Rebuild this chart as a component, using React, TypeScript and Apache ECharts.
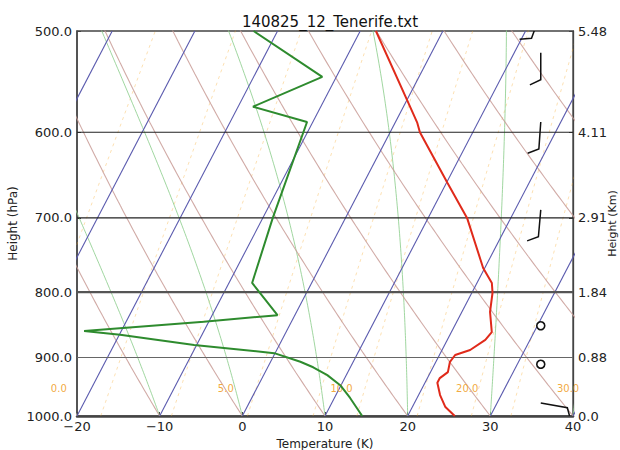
import React, { useEffect, useRef } from 'react';
import * as echarts from 'echarts';

// ---- sounding data ----
const tempP = [1000, 984, 963, 942, 934, 924, 907, 896, 888, 872, 860, 829, 801, 787, 766, 700, 657, 600, 590, 566, 500];
const tempC = [25.7, 24.0, 22.6, 21.5, 21.5, 22.1, 21.7, 21.9, 23.4, 24.6, 24.9, 23.4, 22.5, 21.8, 19.8, 14.7, 10.1, 3.6, 2.7, 0.0, -8.1];

const dewP = [1000, 968, 946, 929, 916, 907, 893, 880, 864, 858, 844, 834, 787, 700, 589, 573, 543, 500];
const dewC = [14.5, 11.9, 9.9, 7.7, 5.5, 3.6, -0.1, -10.3, -19.9, -24.5, -10.6, -2.1, -7.2, -8.8, -10.7, -18.2, -11.7, -22.9];

// wind barbs (pressure of the barb tip, screen angle of the staff, speed)
const windP = [484, 520, 589, 690, 850, 911, 977];
const windAngle = [200, 180, 184, 185, 0, 0, 100];
const windSpeed = [10, 10, 10, 10, 0, 0, 10];
const BARB_X = 36.1;

// axis ticks
const pressureTicks = [500, 600, 700, 800, 900, 1000];
const heightTicks = ['5.48', '4.11', '2.91', '1.84', '0.88', '0.0'];
const gridLevels = [600, 700, 800, 900];

// background line families
const isothermT = [-40, -30, -20, -10, 0, 10, 20, 30, 40];
const dryThetaC = [-20, -10, 0, 10, 20, 30, 40, 50, 60, 70];
const moistThetaC = [-20, -10, 0, 10, 20, 30, 40];
const mixRatios = [0.4, 1, 2, 4, 7, 10, 16, 24, 32];

// orange labels near the bottom
const bottomLabels = ['0.0', '5.0', '10.0', '20.0', '30.0'];
const bottomLabelX = [-22.2, -2.0, 12.0, 27.2, 39.4];
const BOTTOM_LABEL_P = 951;

const SKEW = 35;
const P0 = 1000;
const PTOP = 500;
const FONT = 'DejaVu Sans';

const skewX = (t: number, p: number) => t + SKEW * Math.log(P0 / p);
const yOf = (p: number) => Math.log(p);

const levels: number[] = [];
for (let p = 1000; p >= 480; p -= 5) levels.push(p);

function moistLapse(Tk: number, p: number) {
  const Rd = 287.04, Cp = 1005.7, Lv = 2.501e6, eps = 0.622;
  const Tc = Tk - 273.15;
  const es = 6.112 * Math.exp((17.67 * Tc) / (Tc + 243.5));
  const rs = (eps * es) / (p - es);
  const num = (Rd * Tk + Lv * rs) / p;
  const den = Cp + (Lv * Lv * rs * eps) / (Rd * Tk * Tk);
  return num / den;
}

function moistCurve(t0: number) {
  const out: number[][] = [];
  let T = t0 + 273.15;
  for (let i = 0; i < levels.length; i++) {
    const p = levels[i];
    out.push([skewX(T - 273.15, p), yOf(p)]);
    if (i < levels.length - 1) {
      const dp = levels[i + 1] - p;
      const k1 = moistLapse(T, p);
      const k2 = moistLapse(T + 0.5 * dp * k1, p + 0.5 * dp);
      const k3 = moistLapse(T + 0.5 * dp * k2, p + 0.5 * dp);
      const k4 = moistLapse(T + dp * k3, p + dp);
      T += (dp / 6) * (k1 + 2 * k2 + 2 * k3 + k4);
    }
  }
  return out;
}

function dryCurve(thC: number) {
  return levels.map((p) => {
    const T = (thC + 273.15) * Math.pow(p / 1000, 0.2857) - 273.15;
    return [skewX(T, p), yOf(p)];
  });
}

function mixCurve(w: number) {
  return levels.map((p) => {
    const e = (w * p) / (622 + w);
    const l = Math.log(e / 6.112);
    const td = (243.5 * l) / (17.67 - l);
    return [skewX(td, p), yOf(p)];
  });
}

function lineSeries(data: number[][], color: string, width: number, z: number, extra: any = {}) {
  return {
    type: 'line',
    data,
    symbol: 'none',
    showSymbol: false,
    silent: true,
    clip: true,
    z,
    lineStyle: { color, width, ...extra },
  };
}

function buildOption() {
  const series: any[] = [];
  mixRatios.forEach((w) => series.push(lineSeries(mixCurve(w), '#f5a623', 1, 1, { type: [3, 4], opacity: 0.35 })));
  moistThetaC.forEach((t) => series.push(lineSeries(moistCurve(t), '#8fcf8f', 1, 2, { opacity: 0.85 })));
  dryThetaC.forEach((t) => series.push(lineSeries(dryCurve(t), '#c99c96', 1.1, 2, { opacity: 0.85 })));
  isothermT.forEach((t) =>
    series.push(lineSeries([[skewX(t, P0), yOf(P0)], [skewX(t, PTOP), yOf(PTOP)]], '#5a5aae', 1.1, 3))
  );
  gridLevels.forEach((p) =>
    series.push(
      lineSeries([[-20, yOf(p)], [40, yOf(p)]], p === 800 ? '#555' : p === 900 ? '#666' : '#222', p === 800 ? 2.2 : 1.2, 4)
    )
  );
  series.push(lineSeries(dewP.map((p, i) => [skewX(dewC[i], p), yOf(p)]), '#2e8b2e', 2, 6));
  series.push(lineSeries(tempP.map((p, i) => [skewX(tempC[i], p), yOf(p)]), '#e02a1a', 2, 6));

  series.push({
    type: 'custom',
    coordinateSystem: 'cartesian2d',
    silent: true,
    clip: true,
    z: 7,
    data: windP.map((p, i) => [BARB_X, yOf(p), windAngle[i], windSpeed[i]]),
    renderItem: (params: any, api: any) => {
      const pt = api.coord([api.value(0), api.value(1)]);
      const speed = api.value(3);
      if (!speed) {
        return {
          type: 'circle',
          shape: { cx: pt[0], cy: pt[1], r: 4 },
          style: { fill: '#fff', stroke: '#111', lineWidth: 1.6 },
        };
      }
      const a = (api.value(2) * Math.PI) / 180;
      const dx = Math.sin(a), dy = -Math.cos(a);
      const L = 27;
      const end = [pt[0] + dx * L, pt[1] + dy * L];
      const phi = Math.atan2(dy, dx) + (65 * Math.PI) / 180;
      const b = [end[0] + Math.cos(phi) * 12, end[1] + Math.sin(phi) * 12];
      return {
        type: 'polyline',
        shape: { points: [pt, end, b] },
        style: { fill: 'none', stroke: '#111', lineWidth: 1.5 },
      };
    },
  });

  series.push({
    type: 'custom',
    coordinateSystem: 'cartesian2d',
    silent: true,
    clip: false,
    z: 5,
    data: bottomLabelX.map((x, i) => [x, yOf(BOTTOM_LABEL_P), i]),
    renderItem: (params: any, api: any) => {
      const pt = api.coord([api.value(0), api.value(1)]);
      return {
        type: 'text',
        x: pt[0],
        y: pt[1],
        style: {
          text: bottomLabels[api.value(2)],
          fill: 'rgba(240,160,40,0.9)',
          fontSize: 10,
          fontFamily: FONT,
          align: 'center',
          verticalAlign: 'middle',
        },
      };
    },
  });

  const yTicks = pressureTicks.map(yOf);
  const axisText = { color: '#222', fontSize: 13, fontFamily: FONT };

  return {
    animation: false,
    textStyle: { fontFamily: FONT },
    title: {
      text: '140825_12_Tenerife.txt',
      left: 325,
      top: 9,
      textAlign: 'center',
      textStyle: { fontSize: 15, fontWeight: 'normal', color: '#111', fontFamily: FONT },
    },
    grid: {
      left: 77,
      right: 47,
      top: 31,
      bottom: 34,
      show: true,
      borderColor: '#444',
      borderWidth: 1.3,
      backgroundColor: '#fff',
      containLabel: false,
      outerBoundsMode: 'none',
    },
    xAxis: {
      type: 'value',
      min: -20,
      max: 40,
      interval: 10,
      name: 'Temperature (K)',
      nameLocation: 'middle',
      nameGap: 15,
      nameTextStyle: { fontSize: 12, color: '#222', fontFamily: FONT },
      axisLine: { show: true, onZero: false, lineStyle: { color: '#444', width: 2.5 } },
      axisTick: { show: true, inside: true, length: 4, lineStyle: { color: '#444' } },
      axisLabel: { ...axisText, margin: 4, formatter: (v: number) => String(v).replace('-', '\u2212') },
      splitLine: { show: false },
    },
    yAxis: [
      {
        type: 'value',
        min: yOf(500),
        max: yOf(1000),
        inverse: true,
        name: 'Height (hPa)',
        nameLocation: 'middle',
        nameRotate: 90,
        nameGap: 58,
        nameMoveOverlap: false,
        nameTextStyle: { fontSize: 12, color: '#222', fontFamily: FONT },
        axisLine: { show: true, onZero: false, lineStyle: { color: '#444', width: 1.5 } },
        axisTick: { show: true, inside: true, length: 4, customValues: yTicks },
        axisLabel: {
          ...axisText,
          margin: 5,
          customValues: yTicks,
          formatter: (v: number) => Math.round(Math.exp(v)).toFixed(1),
        },
        splitLine: { show: false },
      },
      {
        type: 'value',
        position: 'right',
        min: yOf(500),
        max: yOf(1000),
        inverse: true,
        name: 'Height (Km)',
        nameLocation: 'middle',
        nameRotate: 90,
        nameGap: 34,
        nameMoveOverlap: false,
        nameTextStyle: { fontSize: 11, color: '#222', fontFamily: FONT },
        axisLine: { show: true, onZero: false, lineStyle: { color: '#444', width: 1.3 } },
        axisTick: { show: true, inside: true, length: 4, customValues: yTicks },
        axisLabel: {
          ...axisText,
          margin: 5,
          customValues: yTicks,
          formatter: (v: number) => heightTicks[pressureTicks.indexOf(Math.round(Math.exp(v)))] ?? '',
        },
        splitLine: { show: false },
      },
    ],
    series,
  };
}

export default function App() {
  const ref = useRef<HTMLDivElement>(null);
  useEffect(() => {
    const chart = echarts.init(ref.current!, null, { renderer: 'svg' });
    chart.setOption(buildOption() as any);
    return () => chart.dispose();
  }, []);
  return (
    <div
      ref={ref}
      style={{ position: 'fixed', left: 0, top: 0, width: 620, height: 450, background: '#fff' }}
    />
  );
}
